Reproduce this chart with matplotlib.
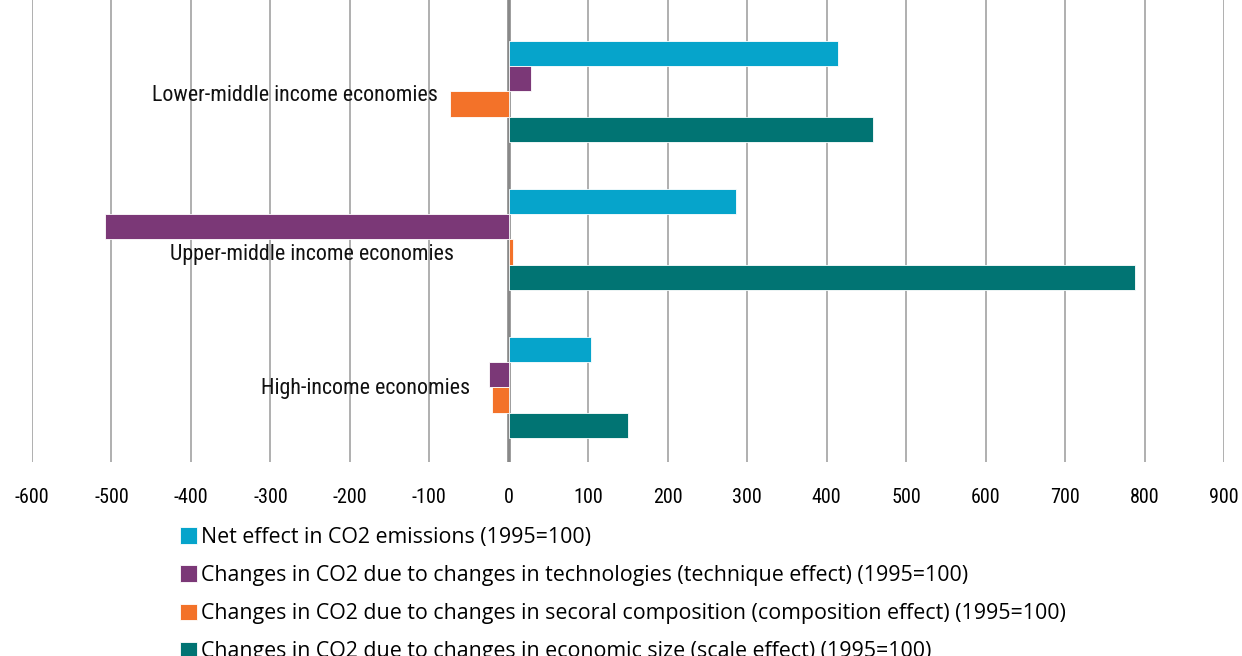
import matplotlib.pyplot as plt
import numpy as np
from matplotlib import font_manager

plt.rcParams["axes.unicode_minus"] = False

available = {f.name for f in font_manager.fontManager.ttflist}
narrow = [n for n in ["Roboto Condensed", "Liberation Sans Narrow", "Open Sans Condensed"]
          if n in available]
LABEL_FONT = narrow[0] if narrow else "Roboto"

categories = [
    "Lower-middle income economies",
    "Upper-middle income economies",
    "High-income economies",
]
series_names = [
    "Net effect in CO2 emissions (1995=100)",
    "Changes in CO2 due to changes in technologies (technique effect) (1995=100)",
    "Changes in CO2 due to changes in secoral composition (composition effect) (1995=100)",
    "Changes in CO2 due to changes in economic size (scale effect) (1995=100)",
]
net_effect = [414, 286, 103]
technique = [28, -508, -25]
composition = [-74, 5, -21]
scale_effect = [458, 788, 150]

colors = ["#06A4CB", "#7B3877", "#F37229", "#017473"]
label_x = [-269, -248, -180]
label_dy = [-0.03, -0.1, -0.008]

fig = plt.figure(figsize=(12.42, 6.56), dpi=100)
ax = fig.add_axes([32 / 1242, 1 - 462 / 656, 1192 / 1242, 462 / 656])

y = np.array([2.0, 1.0, 0.0])
h = 0.1716
offsets = [1.5 * h, 0.5 * h, -0.5 * h, -1.5 * h]
bars = []
for values, offset, color, name in zip(
    [net_effect, technique, composition, scale_effect], offsets, colors, series_names
):
    b = ax.barh(y + offset, values, height=h, color=color, edgecolor="white",
                linewidth=0.6, label=name, zorder=3)
    bars.append(b)

for cat, yy, lx, dy in zip(categories, y, label_x, label_dy):
    ax.text(lx, yy + dy, cat, ha="center", va="center", fontsize=15.8,
            family=LABEL_FONT, color="#111111", zorder=4)

ax.set_xlim(-600, 900)
ax.set_ylim(-0.504, 2.618)
ax.set_xticks(np.arange(-600, 901, 100))
ax.set_yticks([])
ax.grid(axis="x", color="#9a9a9a", linewidth=1.1, zorder=0)
ax.axvline(0, color="#888888", linewidth=2.6, zorder=2)
for spine in ax.spines.values():
    spine.set_visible(False)
ax.tick_params(axis="x", length=0, pad=19, labelsize=14.5)
for t in ax.get_xticklabels():
    t.set_family(LABEL_FONT)

fig.legend(handles=bars, labels=series_names, loc="upper left",
           bbox_to_anchor=(180 / 1242, 1 - 527 / 656), frameon=False,
           handlelength=0.8, handleheight=0.8, handletextpad=0.2,
           labelspacing=0.8, borderaxespad=0, borderpad=0,
           prop={"family": "Open Sans", "size": 15.4})

fig.savefig("out.png", dpi=100)
plt.close(fig)
